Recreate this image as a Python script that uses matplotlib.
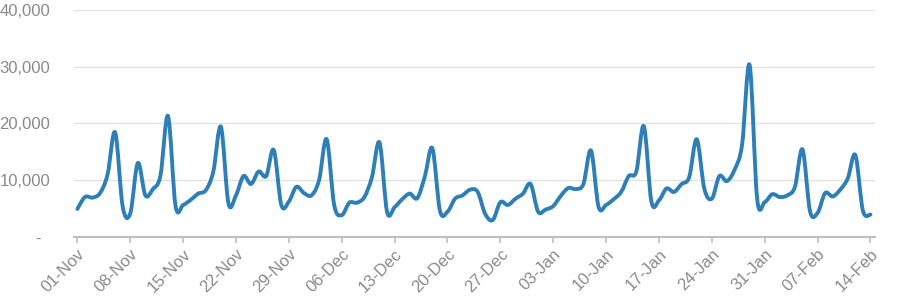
import numpy as np
import matplotlib
matplotlib.use("Agg")
import matplotlib.pyplot as plt
from matplotlib.path import Path
from matplotlib.patches import PathPatch
from matplotlib.ticker import FuncFormatter

# daily values, 01-Nov .. 14-Feb
visits = [
    4900, 7000, 6900, 7700, 11000, 18400, 5300, 4100, 13000, 7300,
    8400, 10800, 21300, 5400, 5600, 6500, 7600, 8200, 11500, 19400,
    5900, 7300, 10700, 9300, 11500, 10700, 15300, 5600, 6200, 8800,
    7700, 7300, 10000, 17200, 5600, 3800, 6000, 6000, 7000, 10500,
    16600, 4400, 5200, 6600, 7600, 6800, 10600, 15600, 4600, 4400,
    6700, 7300, 8300, 7900, 4000, 2950, 6100, 5600, 6700, 7600,
    9300, 4400, 4800, 5400, 7200, 8600, 8400, 9300, 15200, 5300,
    5600, 6600, 7900, 10700, 11500, 19500, 6200, 6400, 8500, 7900,
    9300, 10500, 17200, 8500, 6700, 10700, 9800, 11800, 16200, 30300,
    6700, 6100, 7500, 7000, 7300, 8800, 15400, 4500, 4200, 7700,
    7100, 8300, 10300, 14400, 4600, 3900,
]
tick_labels = ["01-Nov", "08-Nov", "15-Nov", "22-Nov", "29-Nov", "06-Dec",
               "13-Dec", "20-Dec", "27-Dec", "03-Jan", "10-Jan", "17-Jan",
               "24-Jan", "31-Jan", "07-Feb", "14-Feb"]
y_ticks = [0, 10000, 20000, 30000, 40000]

LINE = "#2e7fb8"
GREY = "#8a8a8a"


def smooth_path(x, y):
    # Catmull-Rom through the points, drawn as cubic Bezier segments
    p = np.column_stack([x, y]).astype(float)
    ext = np.vstack([p[0], p, p[-1]])
    verts = [p[0]]
    codes = [Path.MOVETO]
    for i in range(len(p) - 1):
        p0, p1, p2, p3 = ext[i], ext[i + 1], ext[i + 2], ext[i + 3]
        verts += [p1 + (p2 - p0) / 6, p2 - (p3 - p1) / 6, p2]
        codes += [Path.CURVE4] * 3
    return Path(verts, codes)


def main():
    plt.rcParams["font.family"] = ["Liberation Sans", "DejaVu Sans"]
    fig = plt.figure(figsize=(9, 3.07), dpi=100)
    ax = fig.add_axes([0.0822, 0.229, 0.890, 0.7384])

    days = np.arange(len(visits))
    ax.add_patch(PathPatch(smooth_path(days, visits), fill=False,
                           edgecolor=LINE, lw=2.8, capstyle="round",
                           joinstyle="round", zorder=3))

    ax.set_xlim(-0.45, 105.6)
    ax.set_ylim(0, 40000)
    ax.set_xticks(np.arange(0, len(tick_labels) * 7, 7))
    ax.set_xticklabels(tick_labels, rotation=45, ha="right",
                       rotation_mode="anchor")
    ax.set_yticks(y_ticks)
    ax.yaxis.set_major_formatter(
        FuncFormatter(lambda v, _: "-  " if v == 0 else f"{v:,.0f}"))

    ax.grid(axis="y", color="#e2e2e2", lw=1.0)
    ax.set_axisbelow(True)
    for s in ["left", "right", "top"]:
        ax.spines[s].set_visible(False)
    ax.spines["bottom"].set_color("#bfbfbf")
    ax.spines["bottom"].set_linewidth(1.5)
    ax.tick_params(axis="x", colors="#bfbfbf", length=4, width=1.2,
                   labelcolor=GREY, labelsize=12, pad=3)
    ax.tick_params(axis="y", length=0, labelcolor=GREY, labelsize=12, pad=17)

    fig.savefig("out.png", dpi=100)
    plt.close(fig)


if __name__ == "__main__":
    main()
